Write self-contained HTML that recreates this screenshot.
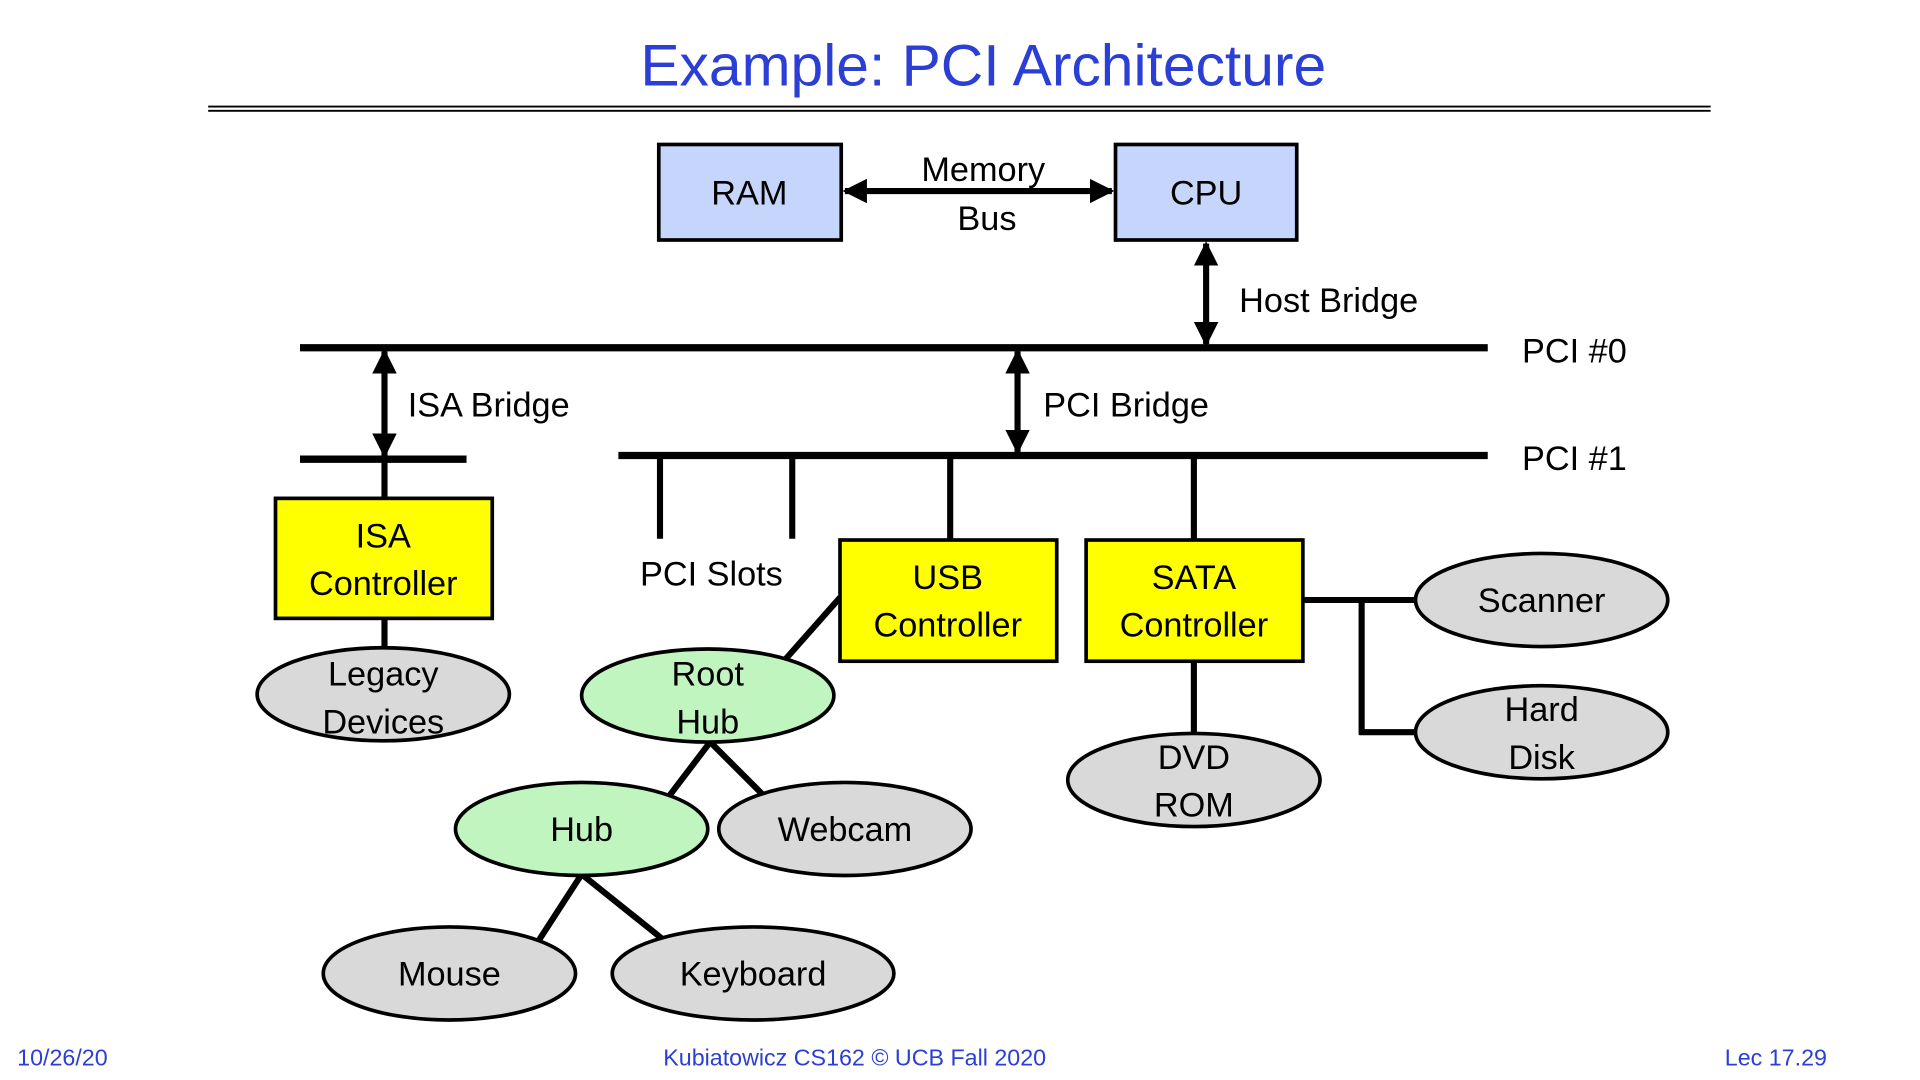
<!DOCTYPE html>
<html><head><meta charset="utf-8"><style>
html,body{margin:0;padding:0;background:#fff;}
svg{display:block;}
text{font-family:"Liberation Sans",sans-serif;}
</style></head><body>
<svg width="1920" height="1080" viewBox="0 0 1568 882" preserveAspectRatio="none" xmlns="http://www.w3.org/2000/svg">
<defs>
<marker id="ah" viewBox="0 0 10 10" refX="9" refY="5" markerWidth="4" markerHeight="4" orient="auto-start-reverse">
<path d="M0,0 L10,5 L0,10 z" fill="#000"/></marker>
</defs>
<text x="803" y="70" font-size="48" fill="#2b3fd6" text-anchor="middle">Example: PCI Architecture</text>
<line x1="170" y1="87" x2="1397" y2="87" stroke="#000" stroke-width="1.5"/>
<line x1="170" y1="90.5" x2="1397" y2="90.5" stroke="#000" stroke-width="1.5"/>

<g font-size="28" fill="#000" text-anchor="middle">
<rect x="538" y="118" width="149" height="78" fill="#c5d5fb" stroke="#000" stroke-width="3"/>
<text x="612" y="167">RAM</text>
<rect x="911" y="118" width="148" height="78" fill="#c5d5fb" stroke="#000" stroke-width="3"/>
<text x="985" y="167">CPU</text>
<line x1="690" y1="156" x2="908" y2="156" stroke="#000" stroke-width="5" marker-start="url(#ah)" marker-end="url(#ah)"/>
<text x="803" y="148">Memory</text>
<text x="806" y="188">Bus</text>
<line x1="985" y1="199" x2="985" y2="281" stroke="#000" stroke-width="5" marker-start="url(#ah)" marker-end="url(#ah)"/>
<text x="1012" y="255" text-anchor="start">Host Bridge</text>

<line x1="245" y1="284" x2="1215" y2="284" stroke="#000" stroke-width="6"/>
<text x="1243" y="296" text-anchor="start">PCI #0</text>
<line x1="314" y1="287" x2="314" y2="372" stroke="#000" stroke-width="5" marker-start="url(#ah)" marker-end="url(#ah)"/>
<text x="333" y="340" text-anchor="start">ISA Bridge</text>
<line x1="245" y1="375" x2="381" y2="375" stroke="#000" stroke-width="6"/>
<line x1="831" y1="287" x2="831" y2="369" stroke="#000" stroke-width="5" marker-start="url(#ah)" marker-end="url(#ah)"/>
<text x="852" y="340" text-anchor="start">PCI Bridge</text>
<line x1="505" y1="372" x2="1215" y2="372" stroke="#000" stroke-width="6"/>
<text x="1243" y="384" text-anchor="start">PCI #1</text>

<g stroke="#000" stroke-width="5">
<line x1="539" y1="372" x2="539" y2="440"/>
<line x1="647" y1="372" x2="647" y2="440"/>
<line x1="776" y1="372" x2="776" y2="441"/>
<line x1="975" y1="372" x2="975" y2="441"/>
<line x1="314" y1="375" x2="314" y2="407"/>
<line x1="314" y1="505" x2="314" y2="532"/>
<line x1="686" y1="488" x2="640" y2="540"/>
<line x1="580" y1="606" x2="545" y2="652"/>
<line x1="580" y1="606" x2="622" y2="648"/>
<line x1="475" y1="714" x2="440" y2="768"/>
<line x1="475" y1="714" x2="540" y2="766"/>
<line x1="975" y1="540" x2="975" y2="600"/>
<line x1="1064" y1="490" x2="1157" y2="490"/>
<line x1="1112" y1="488" x2="1112" y2="600"/>
<line x1="1110" y1="598" x2="1157" y2="598"/>
</g>
<text x="581" y="478">PCI Slots</text>

<rect x="225" y="407" width="177" height="98" fill="#ffff00" stroke="#000" stroke-width="3"/>
<text x="313" y="447">ISA</text><text x="313" y="486">Controller</text>
<rect x="686" y="441" width="177" height="99" fill="#ffff00" stroke="#000" stroke-width="3"/>
<text x="774" y="481">USB</text><text x="774" y="520">Controller</text>
<rect x="887" y="441" width="177" height="99" fill="#ffff00" stroke="#000" stroke-width="3"/>
<text x="975" y="481">SATA</text><text x="975" y="520">Controller</text>

<g stroke="#000" stroke-width="3">
<ellipse cx="313" cy="567" rx="103" ry="38" fill="#d9d9d9"/>
<ellipse cx="578" cy="568" rx="103" ry="38" fill="#c0f5c0"/>
<ellipse cx="475" cy="677" rx="103" ry="38" fill="#c0f5c0"/>
<ellipse cx="690" cy="677" rx="103" ry="38" fill="#d9d9d9"/>
<ellipse cx="367" cy="795" rx="103" ry="38" fill="#d9d9d9"/>
<ellipse cx="615" cy="795" rx="115" ry="38" fill="#d9d9d9"/>
<ellipse cx="975" cy="637" rx="103" ry="38" fill="#d9d9d9"/>
<ellipse cx="1259" cy="490" rx="103" ry="38" fill="#d9d9d9"/>
<ellipse cx="1259" cy="598" rx="103" ry="38" fill="#d9d9d9"/>
</g>
<text x="313" y="560">Legacy</text><text x="313" y="599">Devices</text>
<text x="578" y="560">Root</text><text x="578" y="599">Hub</text>
<text x="475" y="687">Hub</text>
<text x="690" y="687">Webcam</text>
<text x="367" y="805">Mouse</text>
<text x="615" y="805">Keyboard</text>
<text x="975" y="628">DVD</text><text x="975" y="667">ROM</text>
<text x="1259" y="500">Scanner</text>
<text x="1259" y="589">Hard</text><text x="1259" y="628">Disk</text>
</g>

<g font-size="19" fill="#2b3fd6">
<text x="14" y="870">10/26/20</text>
<text x="698" y="870" text-anchor="middle">Kubiatowicz CS162 © UCB Fall 2020</text>
<text x="1492" y="870" text-anchor="end">Lec 17.29</text>
</g>
</svg>
</body></html>
